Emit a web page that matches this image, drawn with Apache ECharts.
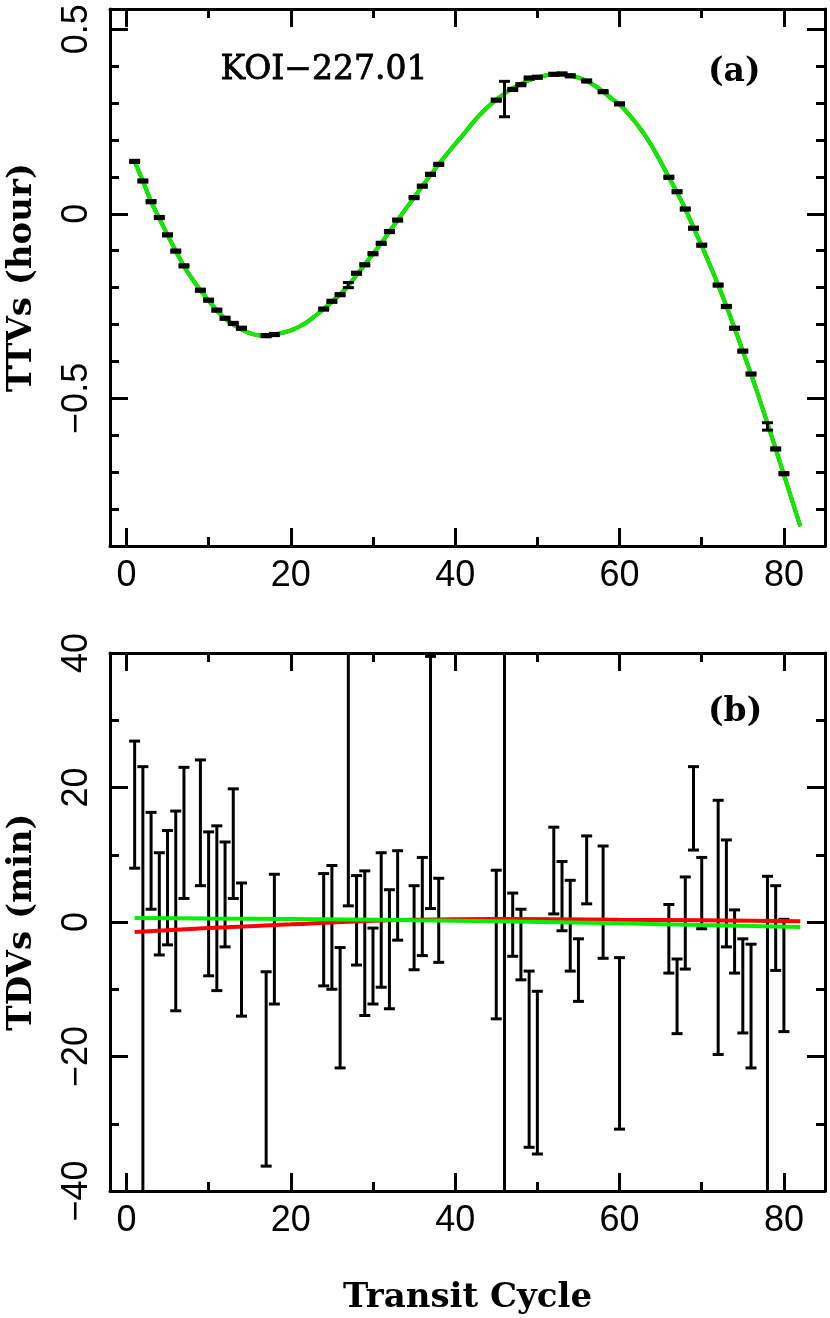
<!DOCTYPE html>
<html>
<head>
<meta charset="utf-8">
<script src="https://cdn.jsdelivr.net/npm/echarts@6/dist/echarts.min.js"></script>
<style>html,body{margin:0;padding:0;background:#fff}#c{width:830px;height:1318px}</style>
</head>
<body>
<div id="c"></div>
<script>
// ---------- Panel (a): TTVs (hour) ----------
const ttvCycle = [1,2,3,4,5,6,7,9,10,11,12,13,14,17,18,24,25,26,27,28,29,30,31,32,33,35,36,37,38,45,46,47,48,49,50,52,53,54,56,58,60,66,67,68,69,70,72,73,74,75,76,78,79,80];
const ttvValue = [0.142,0.089,0.033,-0.010,-0.057,-0.101,-0.141,-0.207,-0.234,-0.261,-0.283,-0.297,-0.310,-0.330,-0.327,-0.258,-0.237,-0.219,-0.193,-0.161,-0.138,-0.108,-0.080,-0.048,-0.017,0.044,0.075,0.107,0.134,0.308,0.311,0.337,0.350,0.368,0.370,0.378,0.379,0.374,0.360,0.331,0.298,0.099,0.060,0.013,-0.039,-0.085,-0.193,-0.251,-0.310,-0.372,-0.434,-0.576,-0.637,-0.704];
const ttvError = [0.003,0.003,0.003,0.003,0.003,0.003,0.003,0.003,0.003,0.003,0.003,0.003,0.003,0.003,0.003,0.003,0.003,0.003,0.007,0.003,0.003,0.003,0.003,0.003,0.003,0.003,0.003,0.003,0.003,0.003,0.048,0.003,0.003,0.003,0.003,0.003,0.003,0.003,0.003,0.003,0.003,0.003,0.003,0.003,0.003,0.003,0.003,0.003,0.003,0.003,0.003,0.010,0.003,0.003];
// model curve (read at each cycle)
const ttvModelCycle = [1,2,3,4,5,6,7,8,9,10,11,12,13,14,15,16,17,18,19,20,21,22,23,24,25,26,27,28,29,30,31,32,33,34,35,36,37,38,39,40,41,42,43,44,45,46,47,48,49,50,51,52,53,54,55,56,57,58,59,60,61,62,63,64,65,66,67,68,69,70,71,72,73,74,75,76,77,78,79,80,81,82];
const ttvModel = [0.142,0.089,0.033,-0.012,-0.057,-0.100,-0.142,-0.176,-0.207,-0.235,-0.262,-0.284,-0.300,-0.313,-0.323,-0.329,-0.331,-0.328,-0.322,-0.316,-0.306,-0.293,-0.276,-0.258,-0.238,-0.218,-0.195,-0.166,-0.138,-0.108,-0.080,-0.048,-0.017,0.014,0.044,0.075,0.105,0.134,0.162,0.189,0.215,0.243,0.268,0.290,0.309,0.326,0.340,0.352,0.362,0.370,0.375,0.378,0.378,0.375,0.369,0.360,0.347,0.331,0.313,0.296,0.273,0.246,0.216,0.181,0.141,0.099,0.058,0.013,-0.037,-0.086,-0.139,-0.193,-0.250,-0.310,-0.372,-0.434,-0.500,-0.568,-0.637,-0.707,-0.777,-0.847];

// ---------- Panel (b): TDVs (min) ----------
const tdvCycle = [1,2,3,4,5,6,7,9,10,11,12,13,14,17,18,24,25,26,27,28,29,30,31,32,33,35,36,37,38,45,46,47,48,49,50,52,53,54,55,56,58,60,66,67,68,69,70,72,73,74,75,76,78,79,80];
const tdvValue = [17.45,-10,9.1,2.7,5.1,1.65,13.25,14.75,2.7,2.05,4.1,11.65,-4.1,-21.85,-2.55,-1.15,-0.8,-12.75,23,0.25,-3.15,-6.55,0.3,-4.05,3.95,-0.85,2.3,20.75,0.25,-3.35,0,-0.4,-3.35,-20.4,-22.4,7.65,3.85,-0.55,-7.15,7.75,2.95,-18.05,-2.5,-11.05,-0.15,16.9,4.3,-0.8,4.25,-2.9,-9.5,-12.5,-18,-0.9,-7.95];
const tdvError = [9.45,33.1,7.2,7.6,8.5,14.85,9.75,9.35,10.7,12.25,7.8,8.15,9.9,14.45,9.65,8.35,9.2,8.95,20.6,6.65,10.75,5.65,10.0,8.85,6.65,6.25,7.3,18.75,6.25,11.05,60,4.7,5.25,13.1,12.1,6.45,5.15,6.75,4.65,5.05,8.35,12.75,5.1,5.55,6.85,6.2,5.3,18.9,7.95,4.7,7.0,9.2,24.8,6.3,8.35];
const tdvFitCycle = [1,10,20,27,35,45,60,70,82];
const tdvRedFit = [-1.5,-0.9,-0.35,0.05,0.35,0.45,0.35,0.25,0.1];
const tdvGreenFit = [0.6,0.52,0.45,0.38,0.25,0.1,-0.2,-0.45,-0.75];

// tick labels
const xTicksMajor = [0,20,40,60,80];
const xTicksMinor = [10,30,50,70];
const ttvTicksMajor = [-0.5,0,0.5];
const ttvTicksMinor = [-0.9,-0.8,-0.7,-0.6,-0.4,-0.3,-0.2,-0.1,0.1,0.2,0.3,0.4];
const tdvTicksMajor = [-40,-20,0,20,40];
const tdvTicksMinor = [-30,-10,10,30];

const TXT = '#000';
const labelFont = {fontFamily:'Liberation Sans', fontSize:36, color:TXT};
const nameFont = {fontFamily:'DejaVu Serif', fontWeight:'bold', fontSize:34, color:TXT};
const fmt = v => String(v).replace('-', '\u2212');

function xAxesFor(grid, name) {
  const base = {gridIndex:grid, type:'value', min:-2, max:85, splitLine:{show:false}};
  const line = {show:true, onZero:false, lineStyle:{color:'#000', width:3}};
  const noLine = {show:false, onZero:false};
  return [
    Object.assign({}, base, {position:'bottom', axisLine:line,
      axisTick:{show:true, inside:true, length:18, lineStyle:{color:'#000', width:3}, customValues:xTicksMajor},
      axisLabel:Object.assign({show:true, margin:12, customValues:xTicksMajor, formatter:fmt}, labelFont),
      name:name||'', nameLocation:'middle', nameGap:90, nameTextStyle:nameFont}),
    Object.assign({}, base, {position:'bottom', axisLine:noLine,
      axisTick:{show:true, inside:true, length:9, lineStyle:{color:'#000', width:3}, customValues:xTicksMinor},
      axisLabel:{show:false}}),
    Object.assign({}, base, {position:'top', axisLine:line,
      axisTick:{show:true, inside:true, length:18, lineStyle:{color:'#000', width:3}, customValues:xTicksMajor},
      axisLabel:{show:false}}),
    Object.assign({}, base, {position:'top', axisLine:noLine,
      axisTick:{show:true, inside:true, length:9, lineStyle:{color:'#000', width:3}, customValues:xTicksMinor},
      axisLabel:{show:false}})
  ];
}
function yAxesFor(grid, min, max, major, minor, name) {
  const base = {gridIndex:grid, type:'value', min:min, max:max, splitLine:{show:false}};
  const line = {show:true, onZero:false, lineStyle:{color:'#000', width:3}};
  const noLine = {show:false, onZero:false};
  return [
    Object.assign({}, base, {position:'left', axisLine:line,
      axisTick:{show:true, inside:true, length:18, lineStyle:{color:'#000', width:3}, customValues:major},
      axisLabel:Object.assign({show:true, rotate:90, margin:15, customValues:major, formatter:fmt}, labelFont),
      name:name, nameLocation:'middle', nameGap:71, nameRotate:90, nameTextStyle:nameFont}),
    Object.assign({}, base, {position:'left', axisLine:noLine,
      axisTick:{show:true, inside:true, length:9, lineStyle:{color:'#000', width:3}, customValues:minor},
      axisLabel:{show:false}}),
    Object.assign({}, base, {position:'right', axisLine:line,
      axisTick:{show:true, inside:true, length:18, lineStyle:{color:'#000', width:3}, customValues:major},
      axisLabel:{show:false}}),
    Object.assign({}, base, {position:'right', axisLine:noLine,
      axisTick:{show:true, inside:true, length:9, lineStyle:{color:'#000', width:3}, customValues:minor},
      axisLabel:{show:false}})
  ];
}

function errRender(params, api) {
  const x = api.value(0), y = api.value(1), e = api.value(2);
  const hi = api.coord([x, y + e]), lo = api.coord([x, y - e]);
  const w = 5.5;
  const st = {stroke:'#000', lineWidth:3, fill:null};
  return {type:'group', children:[
    {type:'line', shape:{x1:hi[0], y1:hi[1], x2:lo[0], y2:lo[1]}, style:st},
    {type:'line', shape:{x1:hi[0]-w, y1:hi[1], x2:hi[0]+w, y2:hi[1]}, style:st},
    {type:'line', shape:{x1:lo[0]-w, y1:lo[1], x2:lo[0]+w, y2:lo[1]}, style:st}
  ]};
}

const ttvData = ttvCycle.map((c,i) => [c, ttvValue[i], ttvError[i]]);
const tdvData = tdvCycle.map((c,i) => [c, tdvValue[i], tdvError[i]]);
const modelData = ttvModelCycle.map((c,i) => [c, ttvModel[i]]);
const redFitData = tdvFitCycle.map((c,i) => [c, tdvRedFit[i]]);
const greenFitData = tdvFitCycle.map((c,i) => [c, tdvGreenFit[i]]);

const chart = echarts.init(document.getElementById('c'), null, {renderer:'canvas'});
chart.setOption({
  animation:false,
  backgroundColor:'#fff',
  grid:[
    {left:110, right:5, top:9, bottom:772, containLabel:false, outerBoundsMode:'none'},
    {left:110, right:5, top:653, bottom:127, containLabel:false, outerBoundsMode:'none'}
  ],
  xAxis: xAxesFor(0, '').concat(xAxesFor(1, 'Transit Cycle')),
  yAxis: yAxesFor(0, -0.9, 0.555, ttvTicksMajor, ttvTicksMinor, 'TTVs (hour)')
    .concat(yAxesFor(1, -40, 40, tdvTicksMajor, tdvTicksMinor, 'TDVs (min)')),
  series:[
    {type:'line', xAxisIndex:0, yAxisIndex:0, data:modelData, smooth:0.3, showSymbol:false,
     lineStyle:{color:'#ff0000', width:4}, z:2},
    {type:'line', xAxisIndex:0, yAxisIndex:0, data:modelData, smooth:0.3, showSymbol:false,
     lineStyle:{color:'#00f000', width:4}, z:3},
    {type:'custom', xAxisIndex:0, yAxisIndex:0, data:ttvData, renderItem:errRender, clip:true, z:4},
    {type:'custom', xAxisIndex:4, yAxisIndex:4, data:tdvData, renderItem:errRender, clip:true, z:2},
    {type:'line', xAxisIndex:4, yAxisIndex:4, data:redFitData, smooth:true, showSymbol:false,
     lineStyle:{color:'#ff0000', width:4}, z:3},
    {type:'line', xAxisIndex:4, yAxisIndex:4, data:greenFitData, smooth:true, showSymbol:false,
     lineStyle:{color:'#00f000', width:4}, z:4}
  ],
  graphic:[
    {type:'text', left:220, top:54, style:{text:'KOI\u2212227.01', fontFamily:'DejaVu Serif', fontSize:33, fill:'#000', stroke:'#000', lineWidth:0.8}},
    {type:'text', left:708, top:56, style:{text:'(a)', fontFamily:'DejaVu Serif', fontWeight:'bold', fontSize:33, fill:'#000'}},
    {type:'text', left:708, top:696, style:{text:'(b)', fontFamily:'DejaVu Serif', fontWeight:'bold', fontSize:33, fill:'#000'}}
  ]
});
</script>
</body>
</html>
